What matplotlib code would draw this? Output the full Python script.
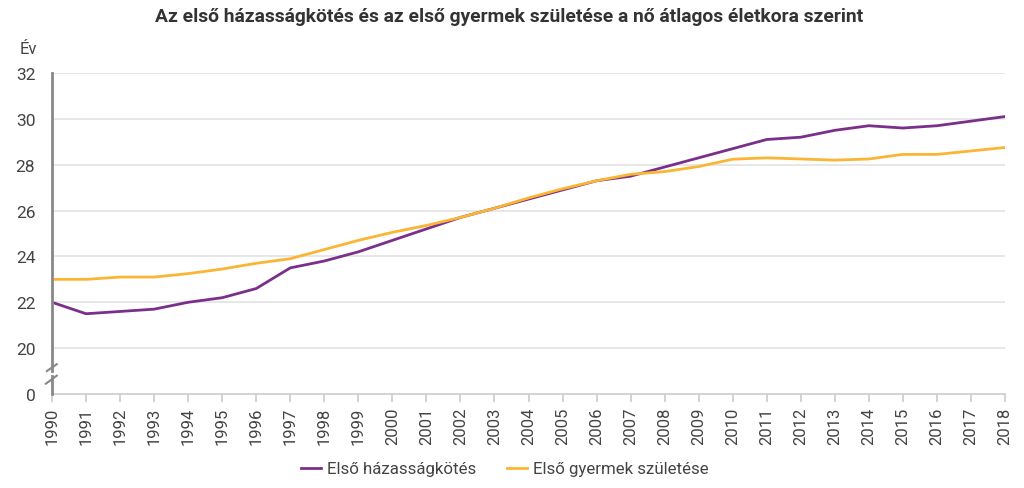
import matplotlib
matplotlib.use("Agg")
import matplotlib.pyplot as plt

plt.rcParams['font.family'] = ['Roboto', 'DejaVu Sans']

years = list(range(1990, 2019))
hazassag = [22.0, 21.5, 21.6, 21.7, 22.0, 22.2, 22.6, 23.5, 23.8, 24.2,
            24.7, 25.2, 25.7, 26.1, 26.5, 26.9, 27.3, 27.5, 27.9, 28.3,
            28.7, 29.1, 29.2, 29.5, 29.7, 29.6, 29.7, 29.9, 30.1]
gyermek = [23.0, 23.0, 23.1, 23.1, 23.25, 23.45, 23.7, 23.9, 24.3, 24.7,
           25.05, 25.35, 25.7, 26.1, 26.55, 26.95, 27.3, 27.58, 27.7, 27.92,
           28.24, 28.3, 28.25, 28.2, 28.25, 28.45, 28.45, 28.6, 28.75]
y_ticks = [18, 20, 22, 24, 26, 28, 30, 32]
y_labels = ['0', '20', '22', '24', '26', '28', '30', '32']

purple = '#7b2f8a'
yellow = '#fbb535'
txt = '#444444'

fig = plt.figure(figsize=(10.24, 4.89), dpi=100)
ax = fig.add_axes([52 / 1024, 1 - 395 / 489, 953 / 1024, 321 / 489])

ax.plot(years, hazassag, color=purple, lw=2, label='Első házasságkötés')
ax.plot(years, gyermek, color=yellow, lw=2, label='Első gyermek születése')

ax.set_xlim(1990, 2018)
ax.set_ylim(18, 32)
ax.set_yticks(y_ticks)
ax.set_yticklabels(y_labels)
ax.set_xticks(years)
ax.set_xticklabels([str(y) for y in years], rotation=90)

for y in y_ticks[1:]:
    ax.axhline(y, color='#e3e3e3', lw=1.2, zorder=0)

for s in ['top', 'right', 'left']:
    ax.spines[s].set_visible(False)
ax.spines['bottom'].set_color('#cccccc')
ax.spines['bottom'].set_linewidth(1.2)

# y axis line with break
ax.plot([1990, 1990], [19.0, 32], color='#888888', lw=2, clip_on=False, zorder=3)
ax.plot([1990, 1990], [18, 18.78], color='#888888', lw=2, clip_on=False, zorder=3)
ax.plot([1989.85, 1990.14], [19.0, 19.3], color='#888888', lw=1.5, clip_on=False, zorder=3)
ax.plot([1989.82, 1990.14], [18.45, 18.8], color='#888888', lw=1.5, clip_on=False, zorder=3)

ax.tick_params(axis='y', length=0, pad=12, labelsize=12.5, labelcolor=txt)
ax.tick_params(axis='x', length=6, color='#cccccc', width=1.2, pad=3,
               labelsize=12, labelcolor=txt)

fig.text(20 / 1024, 1 - 50 / 489, 'Év', fontsize=12, color=txt, va='center', ha='left')
fig.suptitle('Az első házasságkötés és az első gyermek születése a nő átlagos életkora szerint',
             x=0.497, y=1 - 17 / 489, va='center', fontsize=13.9, fontweight='bold', color='#333333')

fig.legend(loc='center', bbox_to_anchor=(0.493, 1 - 470 / 489), ncol=2, frameon=False,
           fontsize=12.2, labelcolor=txt, handlelength=1.2, handletextpad=0.35,
           columnspacing=1.8)

fig.savefig('out.png', dpi=100)
